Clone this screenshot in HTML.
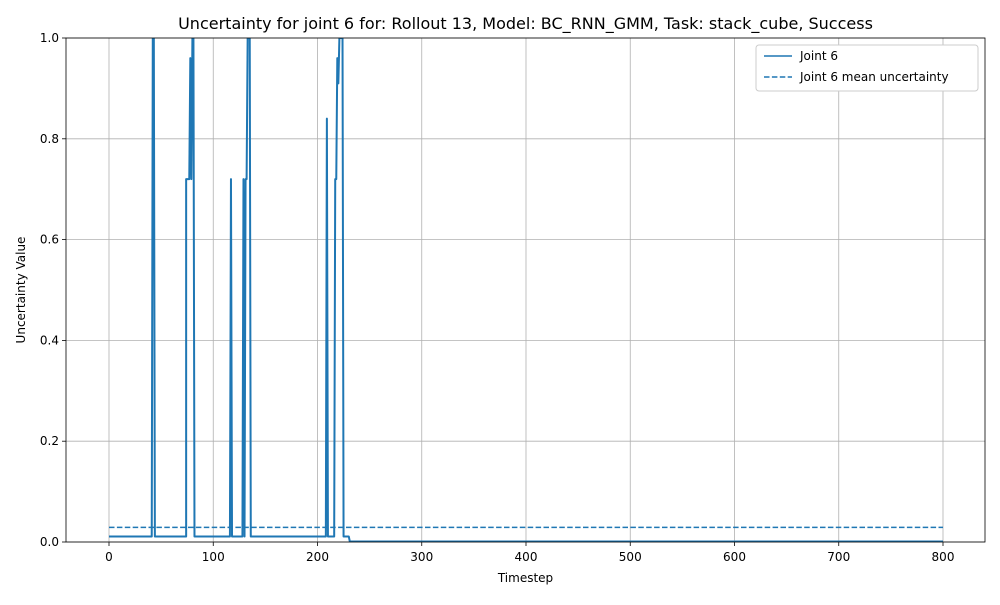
<!DOCTYPE html>
<html><head><meta charset="utf-8"><style>
body{margin:0;background:#fff;font-family:"Liberation Sans","DejaVu Sans",sans-serif}
svg text{font-family:"DejaVu Sans","Liberation Sans",sans-serif}
</style></head><body>
<svg id="c" width="1000" height="600" xmlns="http://www.w3.org/2000/svg"></svg>
<script>
const ts   = [0,41,42,43,44,74,74,77,78,79,80,81,82,116,117,118,128,129,130,131,132,133,134,135,136,208,209,210,216,217,218,219,220,221,223,224,225,230,231,800];
const vals = [0.011,0.011,1.0,1.0,0.011,0.011,0.72,0.72,0.96,0.72,1.0,1.0,0.011,0.011,0.72,0.011,0.011,0.72,0.011,0.72,0.72,1.0,1.0,1.0,0.011,0.011,0.84,0.011,0.011,0.72,0.72,0.96,0.91,1.0,1.0,1.0,0.011,0.011,0.001,0.001];
const meanVal = 0.029;
const xTicks = [0,100,200,300,400,500,600,700,800];
const yTicks = [0,0.2,0.4,0.6,0.8,1.0];
const X0=66,X1=985,Y0=38,Y1=542;
const xs=t=>109+(t-0)*(943-109)/800;
const ys=v=>Y1-(v-0)*(Y1-Y0)/1.0;
const svg=document.getElementById('c');const NS='http://www.w3.org/2000/svg';
function mk(tag,at,txt){const e=document.createElementNS(NS,tag);for(const k in at)e.setAttribute(k,at[k]);if(txt!==undefined)e.textContent=txt;svg.appendChild(e);return e;}
const defs=mk('defs',{});const cp=document.createElementNS(NS,'clipPath');cp.setAttribute('id','cl');const r=document.createElementNS(NS,'rect');r.setAttribute('x',X0);r.setAttribute('y',Y0);r.setAttribute('width',X1-X0);r.setAttribute('height',Y1-Y0);cp.appendChild(r);defs.appendChild(cp);
xTicks.forEach(t=>{const x=xs(t);
 let g=mk('line',{x1:x,x2:x,y1:Y0,y2:Y1,stroke:'#b0b0b0','stroke-width':0.8});
 
 mk('line',{x1:x,x2:x,y1:Y1,y2:Y1+4,stroke:'#000','stroke-width':0.8});
 let l=mk('text',{x:x,y:Y1+19,'font-size':12,'text-anchor':'middle'},String(t));
 });
yTicks.forEach(v=>{const y=ys(v);
 let g=mk('line',{x1:X0,x2:X1,y1:y,y2:y,stroke:'#b0b0b0','stroke-width':0.8});
 
 mk('line',{x1:X0-4,x2:X0,y1:y,y2:y,stroke:'#000','stroke-width':0.8});
 let l=mk('text',{x:X0-7,y:y+4,'font-size':12,'text-anchor':'end'},v.toFixed(1));
 });
let pts=ts.map((t,i)=>xs(t)+','+ys(vals[i])).join(' ');
let line=mk('polyline',{points:pts,fill:'none',stroke:'#1f77b4','stroke-width':2,'stroke-linejoin':'round','clip-path':'url(#cl)'});

let mean=mk('line',{x1:xs(0),x2:xs(800),y1:ys(meanVal),y2:ys(meanVal),stroke:'#1f77b4','stroke-width':1.5,'stroke-dasharray':'5.5,2.4'});

let fr=mk('rect',{x:X0,y:Y0,width:X1-X0,height:Y1-Y0,fill:'none',stroke:'#000','stroke-width':0.8});

let ti=mk('text',{x:525.5,y:29,'font-size':16,'text-anchor':'middle'},'Uncertainty for joint 6 for: Rollout 13, Model: BC_RNN_GMM, Task: stack_cube, Success');

let xt=mk('text',{x:525.5,y:582,'font-size':12,'text-anchor':'middle'},'Timestep');

let yt=mk('text',{x:25,y:290,'font-size':12,'text-anchor':'middle',transform:'rotate(-90 25 290)'},'Uncertainty Value');

let lg=mk('rect',{x:756,y:45,width:222,height:46,fill:'#fff',stroke:'#ccc','stroke-width':1,rx:3});

mk('line',{x1:764,x2:792,y1:56,y2:56,stroke:'#1f77b4','stroke-width':1.5});
let l1=mk('text',{x:800,y:60,'font-size':12},'Joint 6');

mk('line',{x1:764,x2:792,y1:77,y2:77,stroke:'#1f77b4','stroke-width':1.5,'stroke-dasharray':'5.5,2.4'});
let l2=mk('text',{x:800,y:81,'font-size':12},'Joint 6 mean uncertainty');

</script>
</body></html>
